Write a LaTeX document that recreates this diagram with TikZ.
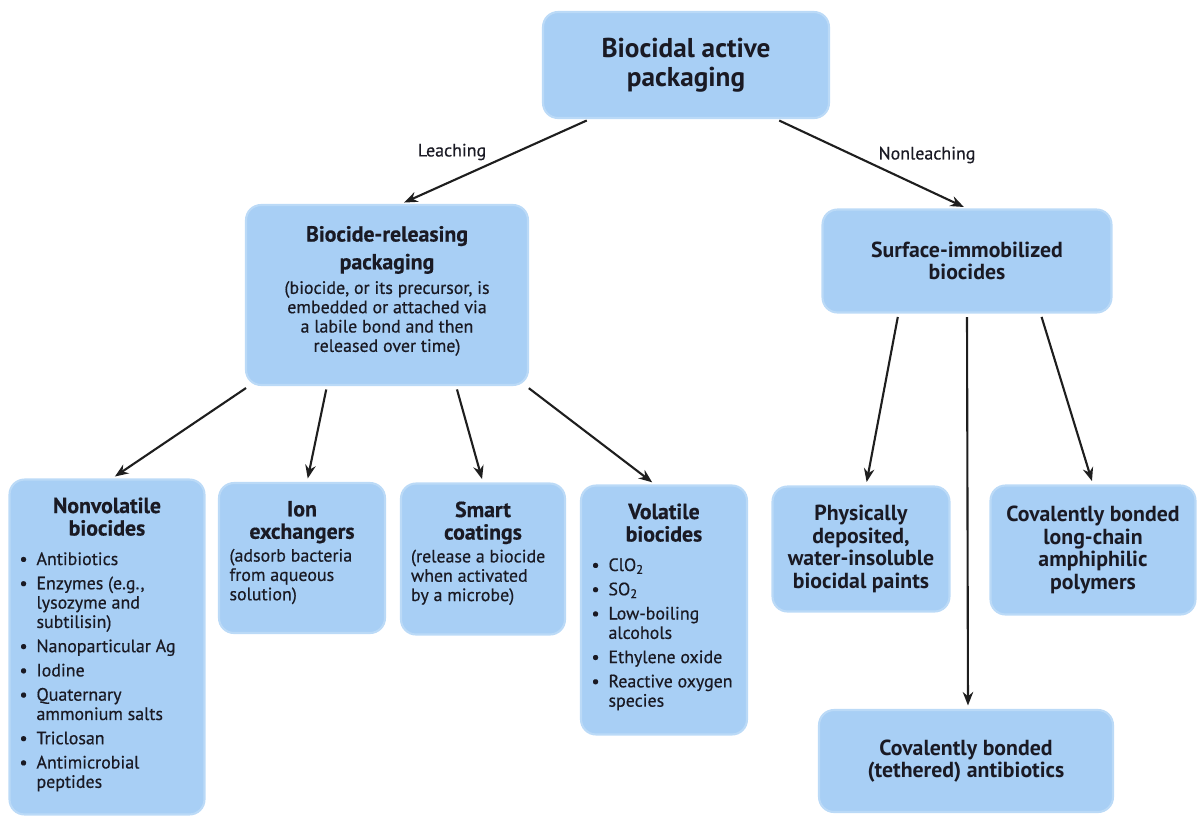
\documentclass[tikz,border=0pt]{standalone}
\usepackage{fontspec}
\setmainfont{PT Sans}
\newfontfamily\bpmedfam{PT Sans}[RawFeature={embolden=0.5}]
\usetikzlibrary{positioning, arrows.meta}
\definecolor{BPblue}{HTML}{A8CFF5}
\definecolor{BPedge}{HTML}{BBDAF7}
\definecolor{BPtext}{HTML}{1A1A24}
\definecolor{BPline}{HTML}{1E1E1E}
\newcommand{\bptop}{\fontsize{15.5}{16.5}\selectfont\bfseries}
\newcommand{\bptitle}{\fontsize{12.4}{12.8}\selectfont\bfseries}
\newcommand{\bpbody}{\bpmedfam\fontsize{10.2}{11}\selectfont\mdseries}
\newcommand{\bpitem}[1]{\par\vspace{2.8pt}\noindent\hangindent=0.34cm\hangafter=1%
    \makebox[0.34cm][l]{\textbullet}#1}
\newcommand{\bpcell}[3]{\begin{minipage}[c][#1][t]{#2}\raggedright #3\end{minipage}}

\begin{document}
\begin{tikzpicture}[
    x=0.02cm, y=-0.02cm,
    bbox/.style={fill=BPblue, draw=BPedge, line width=1.2pt, rounded corners=0.3cm,
                 inner sep=0pt, text=BPtext, font=\bpbody, align=center},
    bparrow/.style={-{Stealth[length=0.27cm, width=0.21cm]}, line width=1.2pt,
                    draw=BPline, shorten <=2pt, shorten >=2pt},
    elabel/.style={font=\bpbody, text=BPtext},
]
\useasboundingbox (0,0) rectangle (1198,819);

% --- top level ---
\node[bbox, minimum width=5.72cm, minimum height=2.12cm, font=\bptop] (top) at (686,65)
    {Biocidal active\\packaging};

% --- second level ---
\node[bbox, minimum width=5.64cm, minimum height=3.6cm] (rel) at (387,295)
    {\bpcell{2.76cm}{5.2cm}{\centering\bptitle Biocide-releasing\\[3pt]packaging\par
     \vspace{3pt}\bpbody (biocide, or its precursor, is\\embedded or attached via\\
     a labile bond and then\\released over time)}};
\node[bbox, minimum width=5.78cm, minimum height=2.06cm, font=\bptitle] (surf) at (967,261)
    {Surface-immobilized\\biocides};

\node[elabel] (leach) at (452,152) {Leaching};
\node[elabel] (nonleach) at (927,155) {Nonleaching};

% --- leaching branch ---
\node[bbox, minimum width=3.9cm, minimum height=6.7cm] (nonvol) at (107,647)
    {\bpcell{5.98cm}{3.5cm}{{\centering\bptitle Nonvolatile\\biocides\par}
     \vspace{3pt}\let\\\newline
     \bpitem{Antibiotics}
     \bpitem{Enzymes (e.g.,\\lysozyme and\\subtilisin)}
     \bpitem{Nanoparticular Ag}
     \bpitem{Iodine}
     \bpitem{Quaternary\\ammonium salts}
     \bpitem{Triclosan}
     \bpitem{Antimicrobial\\peptides}\par}};
\node[bbox, minimum width=3.32cm, minimum height=3.0cm] (ion) at (302,558)
    {\bpcell{2.28cm}{2.9cm}{{\centering\bptitle Ion\\exchangers\par}
     \vspace{2pt}(adsorb bacteria\\from aqueous\\solution)}};
\node[bbox, minimum width=3.28cm, minimum height=3.02cm] (smart) at (483,559)
    {\bpcell{2.3cm}{2.88cm}{{\centering\bptitle Smart\\coatings\par}
     \vspace{2pt}(release a biocide\\when activated\\by a microbe)}};
\node[bbox, minimum width=3.32cm, minimum height=4.98cm] (vol) at (664,610)
    {\bpcell{4.26cm}{2.9cm}{{\centering\bptitle Volatile\\biocides\par}
     \vspace{3pt}\let\\\newline
     \bpitem{ClO\textsubscript{2}}
     \bpitem{SO\textsubscript{2}}
     \bpitem{Low-boiling\\alcohols}
     \bpitem{Ethylene oxide}
     \bpitem{Reactive oxygen\\species}\par}};

% --- nonleaching branch ---
\node[bbox, minimum width=3.54cm, minimum height=2.5cm, font=\bptitle] (phys) at (861,549)
    {Physically\\deposited,\\water-insoluble\\biocidal paints};
\node[bbox, minimum width=4.1cm, minimum height=2.58cm, font=\bptitle] (longc) at (1093,550)
    {Covalently bonded\\long-chain\\amphiphilic\\polymers};
\node[bbox, minimum width=5.88cm, minimum height=2.04cm, font=\bptitle] (teth) at (966,761)
    {Covalently bonded\\(tethered) antibiotics};

% --- connectors ---
\draw[bparrow] ([xshift=0.96cm]top.south west) -- ([xshift=3.12cm]rel.north west);
\draw[bparrow] ([xshift=-1.08cm]top.south east) -- (surf.north);

\draw[bparrow] ([xshift=0.08cm]rel.south west) -- ([xshift=0.1cm]nonvol.north);
\draw[bparrow] ([xshift=1.64cm]rel.south west) -- ([xshift=0.1cm]ion.north);
\draw[bparrow] ([xshift=-1.46cm]rel.south east) -- (smart.north);
\draw[bparrow] ([xshift=-0.06cm]rel.south east) -- ([xshift=-0.18cm]vol.north);

\draw[bparrow] ([xshift=1.54cm]surf.south west) -- ([xshift=0.1cm]phys.north);
\draw[bparrow] (surf.south) -- ([xshift=0.04cm]teth.north);
\draw[bparrow] ([xshift=-1.44cm]surf.south east) -- (longc.north);

\end{tikzpicture}
\end{document}
